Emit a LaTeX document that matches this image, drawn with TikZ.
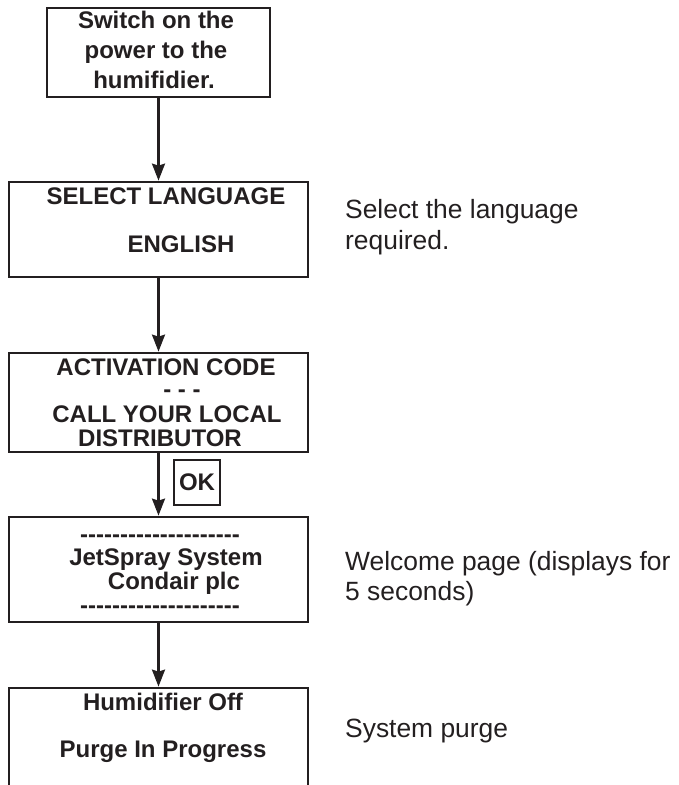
\documentclass[tikz,border=0pt]{standalone}
\usepackage{fontspec}
\setmainfont{Liberation Sans}
\usetikzlibrary{arrows.meta, positioning}
\definecolor{ink}{HTML}{231F20}
\newcommand{\dashrow}{\foreach \i in {1,...,20}{-}}
\tikzset{
  scrbox/.style={draw=ink, line width=2.8pt, inner sep=0pt},
  scrtext/.style={text=ink, font=\fontsize{24}{28}\selectfont\bfseries,
                  inner sep=0pt, anchor=base},
  notetext/.style={text=ink, font=\fontsize{26.4}{30}\selectfont,
                   inner sep=0pt, anchor=base west},
  okbox/.style={draw=ink, line width=2.8pt, minimum width=46pt, minimum height=45pt,
                inner sep=0pt, text=ink, font=\fontsize{24}{28}\selectfont\bfseries},
  arr/.style={-{Stealth[length=17pt, width=13pt, inset=2pt]}, line width=2.4pt, draw=ink},
}

\begin{document}
\begin{tikzpicture}[x=1pt, y=-1pt]
    \useasboundingbox (0,0) rectangle (679,785);
    \clip (0,0) rectangle (679,785);

    % screens
    \node[scrbox, minimum width=223pt, minimum height=89pt] (power) at (158.5, 52.5) {};
    \node[scrbox, minimum width=299pt, minimum height=95pt] (lang) at (158.5, 229.5) {};
    \node[scrbox, minimum width=299pt, minimum height=99pt] (code) at (158.5, 402.5) {};
    \node[scrbox, minimum width=299pt, minimum height=105pt] (welcome) at (158.5, 569.5) {};
    \node[scrbox, minimum width=299pt, minimum height=120pt] (purge) at (158.5, 748) {};

    % screen texts
    \node[scrtext] (power1) at (156, 28) {Switch on the};
    \node[scrtext] (power2) at (156, 58) {power to the};
    \node[scrtext] (power3) at (154, 88) {humifidier.};

    \node[scrtext] (lang1) at (166, 204) {SELECT LANGUAGE};
    \node[scrtext] (lang2) at (181, 252) {ENGLISH};

    \node[scrtext] (code1) at (166, 375) {ACTIVATION CODE};
    \node[scrtext] (code2) at (182, 397) {- - -};
    \node[scrtext] (code3) at (167, 422) {CALL YOUR LOCAL};
    \node[scrtext] (code4) at (160, 446) {DISTRIBUTOR};

    \node[scrtext] (welcome1) at (160, 542) {\dashrow};
    \node[scrtext] (welcome2) at (166, 565) {JetSpray System};
    \node[scrtext] (welcome3) at (174, 589) {Condair plc};
    \node[scrtext] (welcome4) at (160, 613) {\dashrow};

    \node[scrtext] (purge1) at (163, 710) {Humidifier Off};
    \node[scrtext] (purge2) at (163, 757) {Purge In Progress};

    % key
    \node[okbox] (ok) at (197, 482.5) {OK};

    % notes
    \node[notetext] (langnote1) at (345, 218) {Select the language};
    \node[notetext] (langnote2) at (345, 249) {required.};
    \node[notetext] (welcomenote1) at (345, 570) {Welcome page (displays for};
    \node[notetext] (welcomenote2) at (345, 600) {5 seconds)};
    \node[notetext] (purgenote) at (345, 737) {System purge};

    \draw[arr] (power) -- (lang);
    \draw[arr] (lang) -- (code);
    \draw[arr] (code) -- (welcome);
    \draw[arr] (welcome) -- (purge);
\end{tikzpicture}
\end{document}
